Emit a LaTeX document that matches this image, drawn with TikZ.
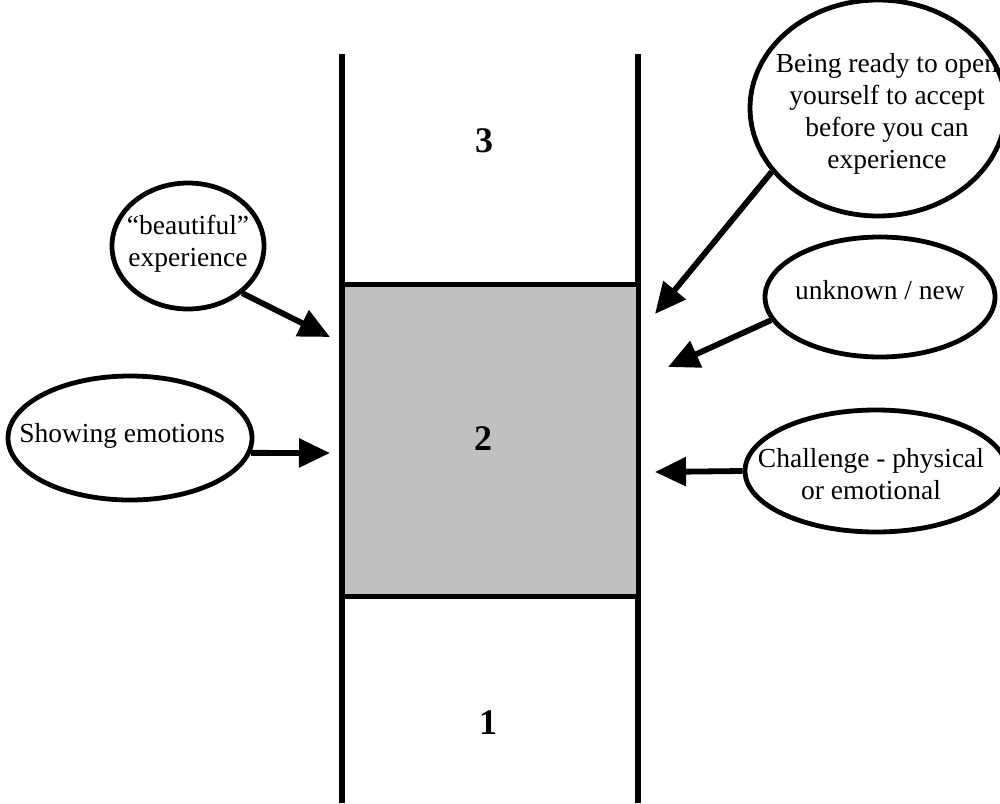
\documentclass[tikz,border=0pt]{standalone}
\usepackage{fontspec}
\setmainfont{Liberation Serif}
\usetikzlibrary{shapes.geometric,arrows.meta}
\definecolor{boxgray}{HTML}{C0C0C0}
\begin{document}
\begin{tikzpicture}[x=1pt,y=-1pt,
  bubble/.style={draw, line width=4.8pt, ellipse, inner sep=0pt},
  txt/.style={font=\fontsize{27.5}{32}\selectfont, align=center, inner sep=0pt},
  num/.style={font=\fontsize{36}{40}\selectfont\bfseries, inner sep=0pt},
  pointer/.style={line width=5.8pt, -{Triangle[length=31pt,width=28pt]}},
  wall/.style={line width=6pt}]
\useasboundingbox (0,0) rectangle (1000,803);

% the column: two walls and the shaded middle band
\coordinate (lt) at (342,54);
\coordinate (lb) at (342,803);
\coordinate (rt) at (638,54);
\coordinate (rb) at (638,803);
\draw[wall] (lt) -- (lb);
\draw[wall] (rt) -- (rb);
\draw[line width=5pt, fill=boxgray] (342,284) rectangle (638,596);

\node[num] (n3) at (484,141) {3};
\node[num] (n2) at (483,439) {2};
\node[num] (n1) at (488,723) {1};

% bubbles on the left
\node[bubble, minimum width=152pt, minimum height=126pt] (E1) at (188,246) {};
\node[txt] (t1) at (188,244) {``beautiful''\\experience};
\node[bubble, minimum width=244pt, minimum height=124pt] (E2) at (130,438) {};
\node[txt] (t2) at (122,436) {Showing emotions};

% bubbles on the right
\node[bubble, minimum width=256pt, minimum height=216pt] (E3) at (878,108) {};
\node[txt] (t3) at (887,114) {Being ready to open\\yourself to accept\\before you can\\experience};
\node[bubble, minimum width=230pt, minimum height=120pt] (E4) at (880,297) {};
\node[txt] (t4) at (880,290) {unknown / new};
\node[bubble, minimum width=262pt, minimum height=122pt] (E5) at (876,471) {};
\node[txt] (t5) at (871,474) {Challenge - physical\\or emotional};

% arrow tips at the column
\coordinate (p1) at (330,337);
\coordinate (p2) at (330,453);
\coordinate (p3) at (655,314);
\coordinate (p4) at (668,367);
\coordinate (p5) at (655,472);

\draw[pointer] (E1.-41) -- (p1);
\draw[pointer] (E2.-7) -- (p2);
\draw[pointer] (E3.211) -- (p3);
\draw[pointer] (E4.192) -- (p4);
\draw[pointer] (E5.180) -- (p5);
\end{tikzpicture}
\end{document}
